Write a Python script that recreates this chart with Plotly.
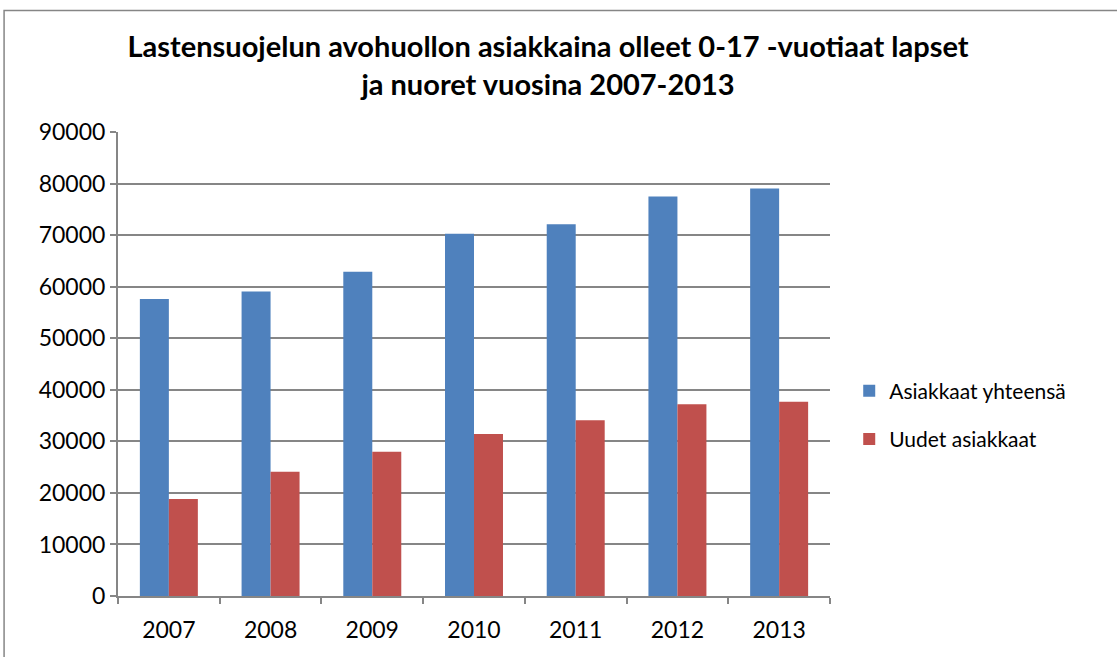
import plotly.graph_objects as go

years = ["2007", "2008", "2009", "2010", "2011", "2012", "2013"]
asiakkaat_yhteensa = [57600, 59050, 62900, 70250, 72100, 77500, 79050]
uudet_asiakkaat = [18800, 24100, 28000, 31400, 34100, 37200, 37700]
y_ticks = [0, 10000, 20000, 30000, 40000, 50000, 60000, 70000, 80000, 90000]

FONT = "Lato"

fig = go.Figure()
fig.add_trace(go.Bar(x=years, y=asiakkaat_yhteensa, name="Asiakkaat yhteensä",
                     legendgroup="a",
                     marker=dict(color="#4F81BD", line=dict(width=0))))
fig.add_trace(go.Bar(x=years, y=uudet_asiakkaat, name="Uudet asiakkaat",
                     legendgroup="b",
                     marker=dict(color="#C0504D", line=dict(width=0))))

fig.update_layout(
    width=1117, height=657,
    margin=dict(l=118, r=287, t=132, b=61),
    paper_bgcolor="white", plot_bgcolor="white",
    barmode="group", bargap=0.43, bargroupgap=0,
    font=dict(family=FONT, size=22, color="black"),
    title=dict(
        text="<b>Lastensuojelun avohuollon asiakkaina olleet 0-17 -vuotiaat lapset<br>ja nuoret vuosina 2007-2013</b>",
        x=0.604, xref="paper", xanchor="center",
        y=0.913, yref="container", yanchor="middle",
        font=dict(family=FONT, size=29, color="black"),
    ),
    legend=dict(x=1.027, y=0.39, xanchor="left", yanchor="middle",
                font=dict(family=FONT, size=21), itemsizing="constant",
                tracegroupgap=18, bgcolor="rgba(0,0,0,0)"),
    xaxis=dict(showline=True, linecolor="#868686", linewidth=2,
               ticks="outside", ticklen=6, tickcolor="#868686", tickwidth=1.5,
               tickson="boundaries", showgrid=False, ticklabelstandoff=12,
               tickfont=dict(family=FONT, size=23)),
    yaxis=dict(range=[0, 90000], tickvals=y_ticks,
               ticktext=[str(v) for v in y_ticks],
               showline=True, linecolor="#868686", linewidth=2,
               ticks="outside", ticklen=6, tickcolor="#868686", tickwidth=1.5,
               showgrid=True, gridcolor="#868686", gridwidth=1.5,
               zeroline=False, tickfont=dict(family=FONT, size=23)),
    shapes=[dict(type="rect", xref="paper", yref="paper",
                 x0=-0.160, x1=1.41, y0=-0.14, y1=1.262,
                 line=dict(color="#868686", width=1.5), layer="below")],
)

fig.write_html("out.html", config={"displayModeBar": False},
               post_script="document.body.style.margin='0';")
